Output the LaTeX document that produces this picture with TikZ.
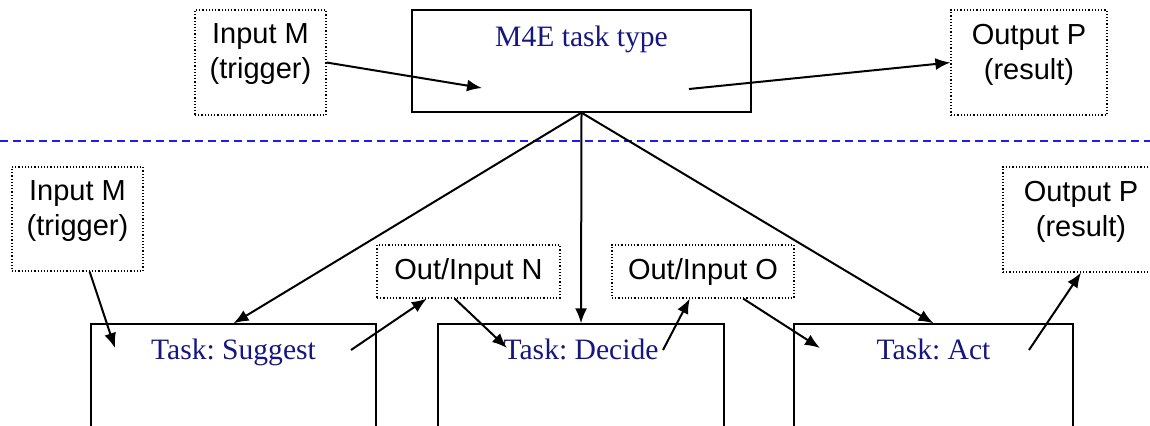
\documentclass[tikz,border=0pt]{standalone}
\usepackage{fontspec}
\usetikzlibrary{arrows.meta}
\newfontfamily\iofont{Liberation Sans}
\newfontfamily\tareafont{Liberation Serif}
\definecolor{azultarea}{RGB}{22,22,128}
\definecolor{azulcorte}{RGB}{30,30,235}

\tikzset{
  estilo m4e/.style={
      x=0.5pt, y=-0.5pt,
      tarea/.style={rectangle, draw, line width=0.65pt, inner sep=0pt},
      es/.style={rectangle, draw, densely dotted, line width=0.6pt, inner sep=0pt,
          font={\iofont\fontsize{14.5}{17.5}\selectfont}},
      es texto/.style={anchor=north, yshift=-7pt, align=center, inner sep=0pt,
          draw=none, solid, font={\iofont\fontsize{14.5}{17.5}\selectfont}},
      tarea texto/.style={anchor=base, yshift=-18pt, inner sep=0pt, draw=none,
          text=azultarea, font={\tareafont\frenchspacing\fontsize{14.8}{17}\selectfont}},
      flecha/.style={-{Latex[length=7.5pt,width=6pt]}, line width=1pt},
      corte/.style={dash pattern=on 4pt off 2.5pt, line width=0.75pt, draw=azulcorte},
    },
}

\begin{document}
\begin{tikzpicture}[estilo m4e]
  \useasboundingbox (0,0) rectangle (1150,425);
  \clip (0,0) rectangle (1150,425);

  % tipo de tarea
  \node[es, minimum width=65.5pt, minimum height=52.5pt,
    label={[es texto]north:{Input M\\(trigger)}}] (inM) at (260.5,62.5) {};
  \node[tarea, minimum width=169.5pt, minimum height=51pt,
    label={[tarea texto, yshift=-0.5pt]north:{M4E task type}}] (m4e) at (581.5,61) {};
  \node[es, minimum width=78pt, minimum height=52.5pt,
    label={[es texto]north:{Output P\\(result)}}] (outP) at (1029,62.5) {};

  \draw[corte] (0,141) -- (1150,141);

  % tareas
  \node[es, minimum width=65.5pt, minimum height=52pt,
    label={[es texto]north:{Input M\\(trigger)}}] (inMb) at (77.5,219) {};
  \node[es, minimum width=78pt, minimum height=52.5pt,
    label={[es texto]north:{Output P\\(result)}}] (outPb) at (1081,219.5) {};
  \node[es, minimum width=91.5pt, minimum height=26.5pt] (ioN) at (468.5,271.5) {Out/Input N};
  \node[es, minimum width=91pt, minimum height=26.5pt] (ioO) at (703,271.5) {Out/Input O};
  \node[tarea, minimum width=142.5pt, minimum height=68pt,
    label={[tarea texto]north:{Task: Suggest}}] (sug) at (233.5,392) {};
  \node[tarea, minimum width=143pt, minimum height=68pt,
    label={[tarea texto]north:{Task: Decide}}] (dec) at (581,392) {};
  \node[tarea, minimum width=139.5pt, minimum height=68pt,
    label={[tarea texto]north:{Task: Act}}] (act) at (933.5,392) {};

  \coordinate (m4e in) at (482,88);
  \coordinate (m4e out) at (689,89);
  \coordinate (sug in) at (115,348);
  \coordinate (sug out) at (351,350);
  \coordinate (dec in) at (507,348);
  \coordinate (dec out) at (663,350);
  \coordinate (act in) at (820,348);
  \coordinate (act out) at (1029,350);

  \draw[flecha] (inM.east) -- (m4e in);
  \draw[flecha] (m4e out) -- (outP.west);
  \draw[flecha] (m4e.south) -- (sug.north);
  \draw[flecha] (m4e.south) -- (dec.north);
  \draw[flecha] (m4e.south) -- (act.north);
  \draw[flecha] (inMb.-77) -- (sug in);
  \draw[flecha] (sug out) -- (ioN.-147);
  \draw[flecha] (ioN.-117) -- (dec in);
  \draw[flecha] (dec out) -- (ioO.-116);
  \draw[flecha] (ioO.-34) -- (act in);
  \draw[flecha] (act out) -- (outPb.south);
\end{tikzpicture}
\end{document}
